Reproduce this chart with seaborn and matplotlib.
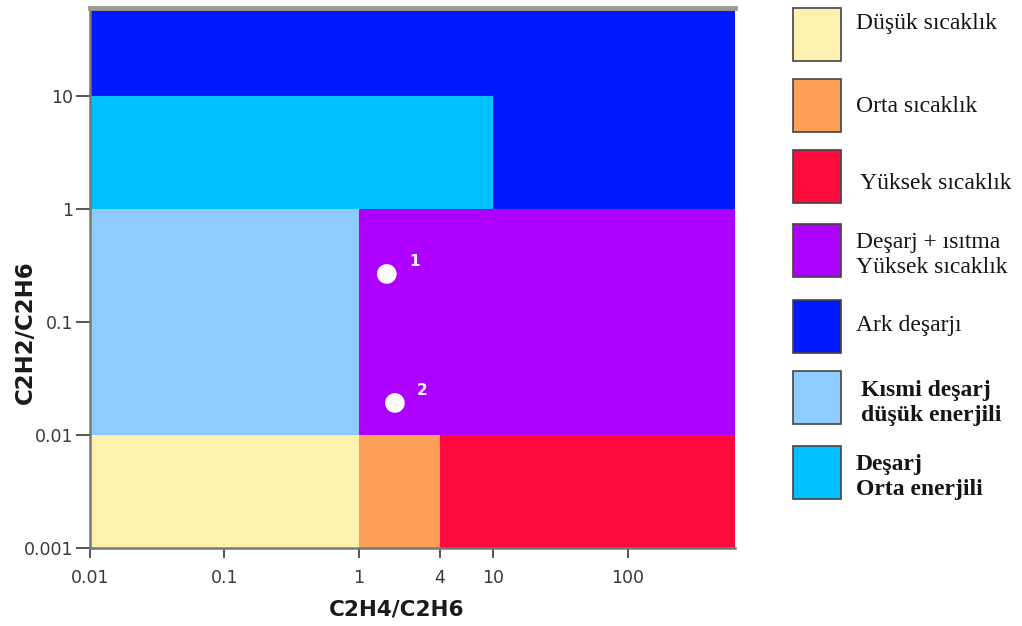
import pandas as pd
import matplotlib.pyplot as plt
import seaborn as sns
from matplotlib.patches import Rectangle

sns.set_style("white")
plt.rcParams['font.family'] = ['DejaVu Sans']

# Regions of the Duval-type ratio chart (C2H4/C2H6 vs C2H2/C2H6)
region_names = ['Düşük sıcaklık', 'Orta sıcaklık', 'Yüksek sıcaklık',
                'Deşarj + ısıtma\nYüksek sıcaklık', 'Ark deşarjı',
                'Kısmi deşarj\ndüşük enerjili', 'Deşarj\nOrta enerjili']
region_colors = ['#FFF2AE', '#FFA05A', '#FF0A3C', '#AE00FF', '#0019FF',
                 '#8ECBFF', '#00C0FF']
x_min = [0.01, 1, 4, 1, 0.01, 0.01, 0.01]
x_max = [1, 4, 625, 625, 625, 1, 10]
y_min = [0.001, 0.001, 0.001, 0.01, 1, 0.01, 1]
y_max = [0.01, 0.01, 0.01, 1, 60, 1, 10]
name_bold = [False, False, False, False, False, True, True]

# Samples
sample_ids = ['1', '2']
sample_x = [1.61, 1.85]
sample_y = [0.266, 0.0192]

xticks = [0.01, 0.1, 1, 4, 10, 100]
yticks = [0.001, 0.01, 0.1, 1, 10]

fig = plt.figure(figsize=(10.22, 6.26), dpi=100)
ax = fig.add_axes([90 / 1022, 1 - 548 / 626, 645 / 1022, 540 / 626])

# ark region first (it sits behind the cyan one), then the rest
for i in [4, 0, 1, 2, 3, 5, 6]:
    ax.fill_between([x_min[i], x_max[i]], y_min[i], y_max[i],
                    color=region_colors[i], lw=0)

df = pd.DataFrame({'x': sample_x, 'y': sample_y, 'id': sample_ids})
sns.scatterplot(data=df, x='x', y='y', ax=ax, color='white', s=200,
                edgecolor='none', marker='o', zorder=5)
for _, r in df.iterrows():
    ax.annotate(r['id'], (r['x'], r['y']), xytext=(16, 6),
                textcoords='offset points', color='white',
                fontsize=11, fontweight='bold')

ax.set_xscale('log')
ax.set_yscale('log')
ax.set_xlim(0.01, 625)
ax.set_ylim(0.001, 60)
ax.set_xticks(xticks)
ax.set_xticklabels([f'{t:g}' for t in xticks])
ax.set_yticks(yticks)
ax.set_yticklabels([f'{t:g}' for t in yticks])
ax.minorticks_off()
ax.tick_params(axis='both', which='major', direction='out', width=1.4,
               color='#555555', labelsize=12.5, labelcolor='#3a3a3a',
               bottom=True, left=True)
ax.tick_params(axis='y', length=10, pad=2)
ax.tick_params(axis='x', length=7, pad=8)

for side in ['left', 'bottom']:
    ax.spines[side].set_color('#777777')
    ax.spines[side].set_linewidth(1.8)
ax.spines['top'].set_color('#9a9a90')
ax.spines['top'].set_linewidth(3.5)
ax.spines['right'].set_visible(False)

ax.set_xlabel('C2H4/C2H6', fontsize=15.5, fontweight='bold', color='#1a1a1a')
ax.set_ylabel('C2H2/C2H6', fontsize=16.5, fontweight='bold', color='#1a1a1a')
ax.xaxis.set_label_coords(0.476, -0.095)
ax.yaxis.set_label_coords(-0.082, 0.40)

# Legend on the right, drawn as boxes with labels
box_tops = [8, 79, 150, 224, 300, 371, 446]
text_mid = [23, 107, 183, 255, 325, 403, 477]
text_left = [856, 856, 860, 856, 856, 861, 856]
for i, top in enumerate(box_tops):
    fig.add_artist(Rectangle((793 / 1022, 1 - (top + 53) / 626), 48 / 1022,
                             53 / 626, transform=fig.transFigure,
                             facecolor=region_colors[i], edgecolor='#444444',
                             lw=1.2))
    fig.text(text_left[i] / 1022, 1 - text_mid[i] / 626, region_names[i],
             family='Liberation Serif', fontsize=17,
             fontweight='bold' if name_bold[i] else 'normal',
             color='#151515', va='center', ha='left', linespacing=1.25)

plt.savefig('out.png', dpi=100)
